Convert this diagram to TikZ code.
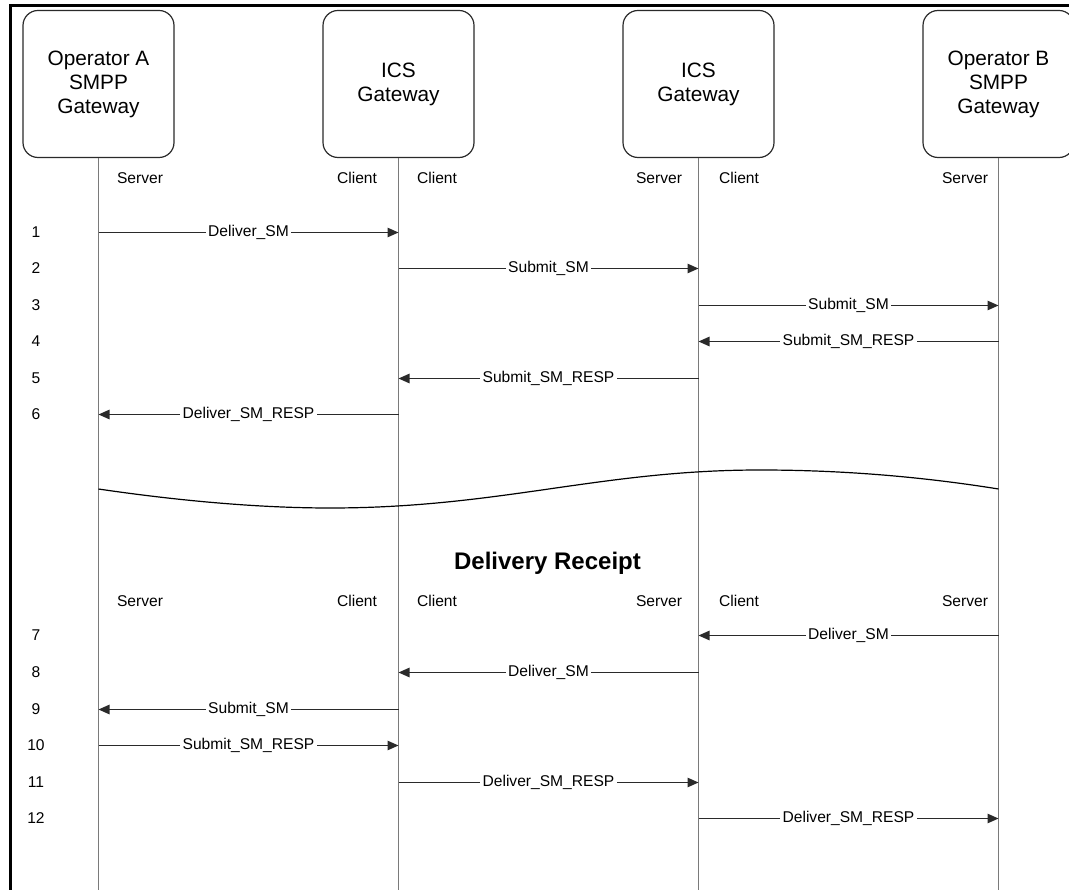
\documentclass[tikz,border=0pt]{standalone}
\usepackage{fontspec}
\setmainfont{Liberation Sans}
\usetikzlibrary{arrows.meta}
\definecolor{lifegray}{HTML}{7A7A7A}
\definecolor{linedark}{HTML}{2A2A2A}
\tikzset{
  party/.style={draw=linedark, line width=1.2pt, rounded corners=15pt, minimum width=151pt, minimum height=147pt, align=center, font=\fontsize{20.8}{24}\selectfont, inner sep=0pt},
  life/.style={draw=lifegray, line width=1.3pt},
  msg/.style={draw=linedark, line width=1.1pt, -{Triangle[length=11pt,width=9.5pt]}},
  lbl/.style={fill=white, inner sep=2.5pt, font=\fontsize{15.6}{18}\selectfont, text=black},
  role/.style={font=\fontsize{15.6}{18}\selectfont},
  rownum/.style={font=\fontsize{15.6}{18}\selectfont},
  title/.style={font=\fontsize{24}{28}\selectfont\bfseries},
  frame/.style={draw=black, line width=3pt}
}
\begin{document}
\begin{tikzpicture}[x=1pt, y=-1pt]
\useasboundingbox (0,0) rectangle (1069,890);
\clip (0,0) rectangle (1069,890);
\draw[frame] (10,5.5) rectangle (1090,910);
% parties
\node[party] (A)  at (98.5,84)  {Operator A\\SMPP\\Gateway};
\node[party] (G1) at (398.5,84) {ICS\\Gateway};
\node[party] (G2) at (698.5,84) {ICS\\Gateway};
\node[party] (B)  at (998.5,84) {Operator B\\SMPP\\Gateway};
% lifeline ends
\coordinate (Ae) at (98.5,900);
\coordinate (G1e) at (398.5,900);
\coordinate (G2e) at (698.5,900);
\coordinate (Be) at (998.5,900);
\draw[life] (A.south) -- (Ae);
\draw[life] (G1.south) -- (G1e);
\draw[life] (G2.south) -- (G2e);
\draw[life] (B.south) -- (Be);
% role labels
\foreach \yy/\nm in {178/a, 601/b}{
  \node[role] (sA\nm)  at (140,\yy) {Server};
  \node[role] (cG1\nm) at (357,\yy) {Client};
  \node[role] (cG1r\nm) at (437,\yy) {Client};
  \node[role] (sG2\nm) at (659,\yy) {Server};
  \node[role] (cG2\nm) at (739,\yy) {Client};
  \node[role] (sB\nm)  at (965,\yy) {Server};
}
% rows
\foreach \n/\yy in {1/232.5,2/268.5,3/305.5,4/341.5,5/378.5,6/414.5,7/635.5,8/672.5,9/709.5,10/745.5,11/782.5,12/818.5}{
  \coordinate (r\n) at (0,\yy);
  \node[rownum] (n\n) at (36,\yy) {\n};
}
% messages
\draw[msg] (A |- r1) -- node[lbl] (m1) {Deliver\_SM} (G1 |- r1);
\draw[msg] (G1 |- r2) -- node[lbl] (m2) {Submit\_SM} (G2 |- r2);
\draw[msg] (G2 |- r3) -- node[lbl] (m3) {Submit\_SM} (B |- r3);
\draw[msg] (B |- r4) -- node[lbl] (m4) {Submit\_SM\_RESP} (G2 |- r4);
\draw[msg] (G2 |- r5) -- node[lbl] (m5) {Submit\_SM\_RESP} (G1 |- r5);
\draw[msg] (G1 |- r6) -- node[lbl] (m6) {Deliver\_SM\_RESP} (A |- r6);
\draw[msg] (B |- r7) -- node[lbl] (m7) {Deliver\_SM} (G2 |- r7);
\draw[msg] (G2 |- r8) -- node[lbl] (m8) {Deliver\_SM} (G1 |- r8);
\draw[msg] (G1 |- r9) -- node[lbl] (m9) {Submit\_SM} (A |- r9);
\draw[msg] (A |- r10) -- node[lbl] (m10) {Submit\_SM\_RESP} (G1 |- r10);
\draw[msg] (G1 |- r11) -- node[lbl] (m11) {Deliver\_SM\_RESP} (G2 |- r11);
\draw[msg] (G2 |- r12) -- node[lbl] (m12) {Deliver\_SM\_RESP} (B |- r12);
% break wave
\draw[draw=black, line width=1.2pt] (98.5,489) .. controls (180,501) and (260,508) .. (330,508)
  .. controls (500,508) and (600,470) .. (760,470)
  .. controls (850,470) and (930,478) .. (998.5,489);
% title
\node[title] (dr) at (547.5,563) {Delivery Receipt};
\end{tikzpicture}
\end{document}
